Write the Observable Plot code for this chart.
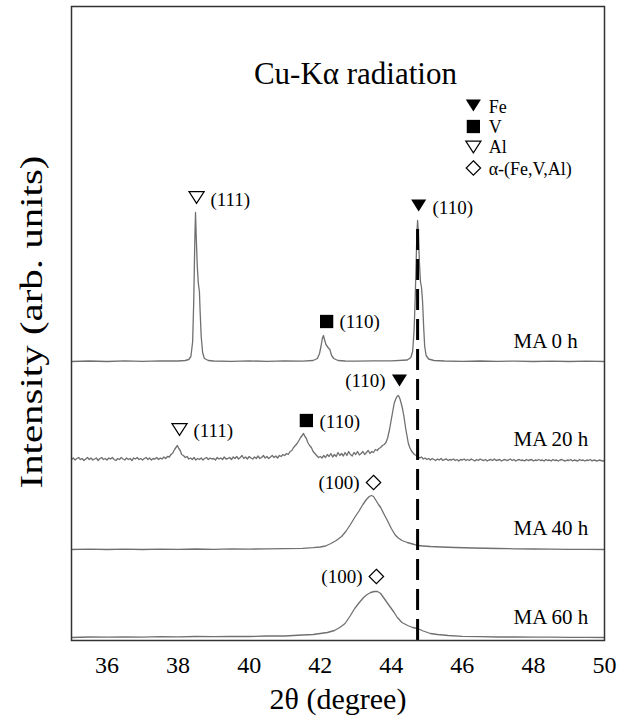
<!DOCTYPE html>
<html>
<head>
<meta charset="utf-8">
<script src="https://cdn.jsdelivr.net/npm/d3@7"></script>
<script src="https://cdn.jsdelivr.net/npm/@observablehq/plot@0.6"></script>
<style>
  body { margin: 0; background: white; }
  #chart { width: 631px; height: 720px; }
  #chart svg, #chart svg text { font-family: "Liberation Serif", "Times New Roman", Times, serif !important; }
</style>
</head>
<body>
<div id="chart"></div>
<script>
// ---- Data (2θ in degrees, intensity in arbitrary units above each pattern's baseline) ----
const patternNames = ["MA 0 h", "MA 20 h", "MA 40 h", "MA 60 h"];
const patternOffsets = [279, 181, 91, 3];

const ma0 = [[35,0],[35.5,0.5],[36,0],[36.5,0.6],[37,0.2],[37.5,0.6],[38,0.5],[38.2,1],[38.3,2],[38.36,5],[38.41,20],[38.44,60],[38.47,120],[38.49,149],[38.51,125],[38.54,95],[38.57,78],[38.6,70],[38.62,50],[38.65,25],[38.69,9],[38.74,3],[38.85,1],[39,0.5],[39.5,0.2],[40,0.6],[40.5,0.2],[41,0.6],[41.5,0.3],[41.8,1],[41.92,3],[41.98,8],[42.02,15],[42.06,23],[42.09,26],[42.12,22],[42.16,17],[42.22,14],[42.27,12],[42.32,6],[42.38,3],[42.5,1],[42.7,0.5],[43,0.3],[43.5,0.6],[44,0.6],[44.45,1.5],[44.55,4],[44.6,10],[44.64,30],[44.67,60],[44.7,100],[44.72,128],[44.74,141],[44.76,130],[44.79,100],[44.82,80],[44.85,74],[44.88,60],[44.91,35],[44.94,15],[44.98,6],[45.05,2.5],[45.2,1],[45.5,0.5],[46,0.2],[46.5,0.5],[47,0.2],[47.5,0.4],[48,0],[48.5,0.3],[49,0],[49.5,0.3],[50,0]];

const ma20 = [[35,0],[35.05,1.5],[35.1,-0.5],[35.15,1],[35.2,2],[35.25,0],[35.3,1],[35.35,-1],[35.4,0.5],[35.45,2],[35.5,0],[35.55,1.5],[35.6,-0.5],[35.65,0.5],[35.7,1.5],[35.75,-1],[35.8,1],[35.85,2],[35.9,0],[35.95,1],[36,-0.5],[36.05,1.5],[36.1,0.5],[36.15,2],[36.2,0],[36.25,-1],[36.3,1],[36.35,0],[36.4,2],[36.45,0.5],[36.5,-0.5],[36.55,1.5],[36.6,0],[36.65,1],[36.7,-1],[36.75,1.5],[36.8,0.5],[36.85,2],[36.9,0],[36.95,1],[37,-0.5],[37.05,1],[37.1,2],[37.15,0],[37.2,1.5],[37.25,-0.5],[37.3,1],[37.35,0.5],[37.4,2],[37.45,0],[37.5,1.5],[37.55,0.5],[37.6,2.5],[37.65,1],[37.7,3],[37.75,2.5],[37.8,5],[37.85,6.5],[37.9,10],[37.94,12],[37.98,14],[38.02,11],[38.06,9],[38.1,5],[38.15,4],[38.2,2],[38.25,3],[38.3,0.5],[38.35,1.5],[38.4,0],[38.45,2],[38.5,-0.5],[38.55,1],[38.6,0],[38.65,1.5],[38.7,-0.5],[38.75,1],[38.8,2],[38.85,0],[38.9,1.5],[38.95,0.5],[39,1],[39.05,-0.5],[39.1,2],[39.15,0.5],[39.2,1.5],[39.25,0],[39.3,2.5],[39.35,0.5],[39.4,1],[39.45,2],[39.5,0],[39.55,2.5],[39.6,1],[39.65,3],[39.7,0.5],[39.75,2],[39.8,4],[39.85,1],[39.9,2.5],[39.95,0.5],[40,3],[40.05,1.5],[40.1,0.5],[40.15,2.5],[40.2,1],[40.25,3.5],[40.3,1],[40.35,2],[40.4,4],[40.45,1.5],[40.5,3],[40.55,1],[40.6,2.5],[40.65,4],[40.7,2],[40.75,3.5],[40.8,1.5],[40.85,4],[40.9,3],[40.95,5],[41,4],[41.05,6],[41.1,5],[41.15,8],[41.2,9],[41.25,12],[41.3,14],[41.35,16],[41.4,19],[41.45,22],[41.49,24],[41.53,26],[41.57,23],[41.61,21],[41.65,17],[41.7,14],[41.75,12],[41.8,8],[41.85,6],[41.9,4],[41.95,2],[42,3],[42.05,1.5],[42.1,4],[42.15,2],[42.2,5],[42.25,3],[42.3,6],[42.35,2.5],[42.4,5],[42.45,3],[42.5,7],[42.55,4],[42.6,6],[42.65,3.5],[42.7,7],[42.75,4],[42.8,8],[42.85,5],[42.9,3.5],[42.95,7],[43,5],[43.05,8],[43.1,4.5],[43.15,6],[43.2,8],[43.25,5],[43.3,7],[43.35,9],[43.4,6],[43.45,8],[43.5,7],[43.55,10],[43.6,9],[43.65,11],[43.7,12],[43.75,14],[43.8,15],[43.85,17],[43.9,22],[43.95,30],[44,40],[44.04,48],[44.08,56],[44.12,60],[44.16,63],[44.2,64],[44.24,61],[44.28,56],[44.32,50],[44.36,42],[44.4,32],[44.44,24],[44.48,16],[44.52,12],[44.56,9],[44.6,7],[44.65,5],[44.7,4],[44.75,3],[44.8,1.5],[44.85,2.5],[44.9,0.5],[44.95,1.5],[45,0],[45.05,1],[45.1,-0.5],[45.15,1],[45.2,0],[45.25,-1],[45.3,0.5],[45.35,-0.5],[45.4,1],[45.45,-1],[45.5,0],[45.55,0.5],[45.6,-1],[45.65,0],[45.7,-0.5],[45.75,0.5],[45.8,-1],[45.85,0],[45.9,-1.5],[45.95,0],[46,-0.5],[46.05,0.5],[46.1,-1],[46.15,0],[46.2,-1],[46.25,0.5],[46.3,-0.5],[46.35,-1.5],[46.4,0],[46.45,-1],[46.5,0.5],[46.55,-0.5],[46.6,-1],[46.65,0],[46.7,-1.5],[46.75,-0.5],[46.8,0],[46.85,-1],[46.9,0.5],[46.95,-1],[47,-0.5],[47.05,0],[47.1,-1.5],[47.15,-0.5],[47.2,0],[47.25,-1],[47.3,-0.5],[47.35,0.5],[47.4,-1],[47.45,0],[47.5,-1.5],[47.55,-0.5],[47.6,0],[47.65,-1],[47.7,-0.5],[47.75,-1.5],[47.8,0],[47.85,-1],[47.9,-0.5],[47.95,0],[48,-1.5],[48.05,-0.5],[48.1,-1],[48.15,0],[48.2,-1],[48.25,-0.5],[48.3,-1.5],[48.35,0],[48.4,-1],[48.45,-0.5],[48.5,-1.5],[48.55,0],[48.6,-1],[48.65,-0.5],[48.7,-1.5],[48.75,-0.5],[48.8,0],[48.85,-1],[48.9,-1.5],[48.95,-0.5],[49,-1],[49.05,0],[49.1,-1.5],[49.15,-0.5],[49.2,-1],[49.25,-1.5],[49.3,0],[49.35,-1],[49.4,-0.5],[49.45,-1.5],[49.5,-0.5],[49.55,-1],[49.6,0],[49.65,-1.5],[49.7,-0.5],[49.75,-1],[49.8,-1.5],[49.85,-0.5],[49.9,-1],[49.95,-1.5],[50,-1]];

const ma40 = [[35,0],[35.5,0.3],[36,0],[36.5,0.4],[37,0],[37.5,0.3],[38,0.2],[38.5,0.5],[39,0.2],[39.5,0.6],[40,0.4],[40.5,0.7],[41,0.8],[41.5,1.2],[41.8,1.8],[42,2.5],[42.15,3.5],[42.3,6],[42.45,9],[42.6,13],[42.72,18],[42.85,25],[42.97,32],[43.1,39],[43.2,45],[43.3,50],[43.38,53],[43.44,54],[43.5,53],[43.57,49],[43.64,45],[43.7,42],[43.8,35],[43.89,29],[44,21],[44.1,15],[44.18,12],[44.3,9],[44.45,7],[44.6,5.5],[44.74,4],[44.9,3.5],[45.1,3],[45.4,2.5],[45.8,2],[46.3,1.5],[47,1],[47.5,0.7],[48,0.5],[48.5,0.3],[49,0.2],[49.5,0.1],[50,0]];

const ma60 = [[35,0],[35.5,0.5],[36,0.3],[36.5,0.6],[37,0.4],[37.5,0.8],[38,0.6],[38.5,1],[39,0.8],[39.5,1.2],[40,1],[40.5,1.5],[41,1.5],[41.5,2.5],[41.8,3],[42,4],[42.2,5],[42.4,7],[42.55,10],[42.7,14],[42.85,22],[42.97,29],[43.1,35],[43.22,40],[43.32,43],[43.42,45],[43.52,46],[43.61,46],[43.7,44],[43.78,40],[43.88,35],[43.98,30],[44.08,25],[44.17,20],[44.3,15],[44.46,12],[44.6,10],[44.74,9],[44.9,6.5],[45.1,4],[45.3,3],[45.6,2],[46,1.2],[46.5,0.8],[47,0.5],[47.5,0.5],[48,0.3],[48.5,0.3],[49,0.2],[49.5,0.2],[50,0]];

const patternData = [ma0, ma20, ma40, ma60];

// Sample labels
const sampleLabelX = 47.44;
const sampleLabelY = [293, 195, 106, 17];

// Peak annotations
const annKind  = ["Al", "V", "Fe", "Al", "V", "Fe", "alpha", "alpha"];
const annMarkX = [38.52, 42.18, 44.77, 38.04, 41.61, 44.23, 43.50, 43.58];
const annMarkY = [443, 319, 435, 211, 220, 260, 158, 64];
const annText  = ["(111)", "(110)", "(110)", "(111)", "(110)", "(110)", "(100)", "(100)"];
const annTextX = [38.91, 42.54, 45.16, 38.43, 41.98, 43.84, 43.11, 43.19];
const annTextY = [435, 313, 427, 204, 213, 254, 152, 58];
const annAnchor = ["start", "start", "start", "start", "start", "end", "end", "end"];

// Legend
const legendKinds = ["Fe", "V", "Al", "alpha"];
const legendNames = ["Fe", "V", "Al", "α-(Fe,V,Al)"];
const legendMarkX = 46.31;
const legendMarkY = [535, 514, 493.5, 472.5];
const legendTextX = 46.74;
const legendTextY = [528, 508, 488, 466];

// Title
const titleText = "Cu-Kα radiation";
const titleX = 42.99, titleY = 557;

// Dashed reference line (Fe (110))
const dashX = 44.74, dashTop = 418;

// Axes
const xTicks = [36, 38, 40, 42, 44, 46, 48, 50];
const xLabel = "2θ (degree)";
const yLabel = "Intensity (arb. units)";

// ---- Build tables ----
const FONT = "Liberation Serif";
const lineRows = patternData.flatMap((arr, i) =>
  arr.map(([t, v]) => ({name: patternNames[i], t, v: v + patternOffsets[i]})));
const annRows = annKind.map((k, i) => ({kind: k, mx: annMarkX[i], my: annMarkY[i], text: annText[i], tx: annTextX[i], ty: annTextY[i], anchor: annAnchor[i]}));
const legRows = legendKinds.map((k, i) => ({kind: k, mx: legendMarkX, my: legendMarkY[i], name: legendNames[i], tx: legendTextX, ty: legendTextY[i]}));
const markerRows = [...annRows, ...legRows];

const downTriangle = {
  draw(ctx, size) {
    const r = Math.sqrt(size / Math.PI);
    const hw = r * 1.35, hh = r * 1.05;
    ctx.moveTo(0, hh);
    ctx.lineTo(-hw, -hh);
    ctx.lineTo(hw, -hh);
    ctx.closePath();
  }
};

const chart = Plot.plot({
  width: 631,
  height: 720,
  marginLeft: 71,
  marginRight: 27,
  marginTop: 6,
  marginBottom: 80,
  x: {domain: [35, 50], axis: null},
  y: {domain: [0, 634], axis: null},
  style: {fontFamily: FONT, background: "white", color: "black"},
  marks: [
    Plot.line(lineRows, {x: "t", y: "v", z: "name", stroke: "#707070", strokeWidth: 1.3}),
    Plot.ruleX([dashX], {y1: 0, y2: dashTop, stroke: "black", strokeWidth: 3, strokeDasharray: "21,9"}),
    Plot.frame({stroke: "#333", strokeWidth: 1.5}),
    Plot.axisX(xTicks, {tickSize: 0, tickPadding: 15, fontSize: 24, fontFamily: FONT, label: null}),
    Plot.text([xLabel], {frameAnchor: "bottom", text: d => d, dy: 68, lineAnchor: "bottom", fontSize: 30, fontFamily: FONT}),
    Plot.text([yLabel], {x: [33.9], y: [152], text: d => d, rotate: -90, textAnchor: "start", lineAnchor: "middle", fontSize: 31, fontFamily: FONT, className: "ylabel"}),
    Plot.text([titleText], {x: [titleX], y: [titleY], text: d => d, textAnchor: "middle", lineAnchor: "bottom", fontSize: 31, fontFamily: FONT}),
    // sample labels
    Plot.text(patternNames, {x: patternNames.map(() => sampleLabelX), y: sampleLabelY, text: d => d, textAnchor: "start", lineAnchor: "bottom", fontSize: 21, fontFamily: FONT}),
    // peak labels
    Plot.text(annRows.filter(d => d.anchor === "start"), {x: "tx", y: "ty", text: "text", textAnchor: "start", lineAnchor: "bottom", fontSize: 19, fontFamily: FONT}),
    Plot.text(annRows.filter(d => d.anchor === "end"), {x: "tx", y: "ty", text: "text", textAnchor: "end", lineAnchor: "bottom", fontSize: 19, fontFamily: FONT}),
    // legend text
    Plot.text(legRows, {x: "tx", y: "ty", text: "name", textAnchor: "start", lineAnchor: "bottom", fontSize: 18, fontFamily: FONT}),
    // markers
    Plot.dot(markerRows.filter(d => d.kind === "Fe"), {x: "mx", y: "my", symbol: downTriangle, r: 5.6, fill: "black", stroke: "none"}),
    Plot.dot(markerRows.filter(d => d.kind === "Al"), {x: "mx", y: "my", symbol: downTriangle, r: 5.6, fill: "white", stroke: "black", strokeWidth: 1.2}),
    Plot.dot(markerRows.filter(d => d.kind === "V"), {x: "mx", y: "my", symbol: "square", r: 7.5, fill: "black", stroke: "none"}),
    Plot.dot(markerRows.filter(d => d.kind === "alpha"), {x: "mx", y: "my", symbol: "diamond2", r: 6.5, fill: "white", stroke: "black", strokeWidth: 1.2})
  ]
});
// stretch the rotated y label along its length to match the reference's extent
d3.select(chart).selectAll("g.ylabel text, .ylabel text").attr("textLength", 333).attr("lengthAdjust", "spacingAndGlyphs");
document.getElementById("chart").appendChild(chart);
</script>
</body>
</html>
